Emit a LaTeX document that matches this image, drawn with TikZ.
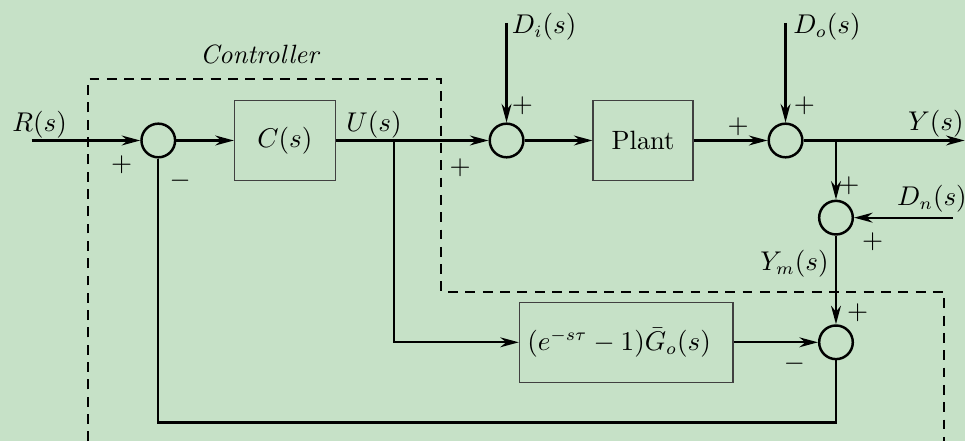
\documentclass[tikz,border=0pt]{standalone}
\usepackage{amsmath}
\usetikzlibrary{arrows.meta, positioning}
\definecolor{ctrlbg}{RGB}{198,225,199}

\begin{document}
\begin{tikzpicture}[
    x=0.4pt, y=-0.4pt,
    every node/.style={font=\fontsize{10.7}{13}\selectfont},
    sumnode/.style={circle, draw, line width=1pt, minimum size=13.6pt, inner sep=0pt},
    blockbox/.style={rectangle, draw=black!75, line width=0.5pt, minimum width=#1, minimum height=32.4pt},
    sgn/.style={inner sep=0pt},
    sig/.style={line width=0.9pt, -{Stealth[length=7.5pt,width=4pt]}},
    wire/.style={line width=0.9pt},
    ctrlframe/.style={line width=0.9pt, dash pattern=on 4pt off 3pt},
]

\fill[ctrlbg] (0,0) rectangle (975,446);

% blocks and summing junctions
\node[sumnode] (sum1) at (160,142) {};
\node[blockbox=40.8pt] (ctrl) at (288,142) {$C(s)$};
\node[sumnode] (sum2) at (512,142) {};
\node[blockbox=40.4pt] (plant) at (650,142) {Plant};
\node[sumnode] (sum3) at (794,142) {};
\node[sumnode] (sum4) at (845,220) {};
\node[sumnode] (sum5) at (845,346) {};
\node[blockbox=86.4pt, text width=80pt, inner xsep=3.2pt, align=left] (model) at (633,346) {$(e^{-s\tau}-1)\bar{G}_o(s)$};

% free ends and corners
\coordinate (rin) at (32,142);
\coordinate (dinp) at (512,23);
\coordinate (doutp) at (794,23);
\coordinate (yout) at (975,142);
\coordinate (dnoise) at (963,220);
\coordinate (ubr) at (398,142);
\coordinate (ydown) at (398,346);
\coordinate (ybr) at (845,142);
\coordinate (fbr) at (845,427);
\coordinate (fbl) at (160,427);

% signals
\draw[sig] (rin) -- (sum1);
\draw[sig] (sum1) -- (ctrl);
\draw[sig] (ctrl) -- (sum2);
\draw[sig] (dinp) -- (sum2);
\draw[sig] (sum2) -- (plant);
\draw[sig] (plant) -- (sum3);
\draw[sig] (doutp) -- (sum3);
\draw[sig] (sum3) -- (yout);
\draw[sig] (ybr) -- (sum4);
\draw[sig] (dnoise) -- (sum4);
\draw[sig] (sum4) -- (sum5);
\draw[sig] (ubr) -- (ydown) -- (model);
\draw[sig] (model) -- (sum5);
\draw[wire] (sum5) -- (fbr) -- (fbl) -- (sum1);

% controller frame
\draw[ctrlframe] (89,446) -- (89,80) -- (446,80) -- (446,295) -- (954,295) -- (954,446);
\node (ctrltitle) at (263,55) {\textit{Controller}};

% signal labels
\node (lblR) at (40,126) {$R(s)$};
\node (lblU) at (378,126) {$U(s)$};
\node (lblDi) at (550,27) {$D_i(s)$};
\node (lblDo) at (836,27) {$D_o(s)$};
\node (lblY) at (946,125) {$Y(s)$};
\node (lblDn) at (942,201) {$D_n(s)$};
\node (lblYm) at (803,267) {$Y_m(s)$};

% signs
\node[sgn] (p1) at (123,166) {$+$};
\node[sgn] (m1) at (182,183) {$-$};
\node[sgn] (p2a) at (465,170) {$+$};
\node[sgn] (p2b) at (528,107) {$+$};
\node[sgn] (p3a) at (746,128) {$+$};
\node[sgn] (p3b) at (813,107) {$+$};
\node[sgn] (p4a) at (858,188) {$+$};
\node[sgn] (p4b) at (882,244) {$+$};
\node[sgn] (p5) at (867,316) {$+$};
\node[sgn] (m5) at (803,368) {$-$};

\end{tikzpicture}
\end{document}
